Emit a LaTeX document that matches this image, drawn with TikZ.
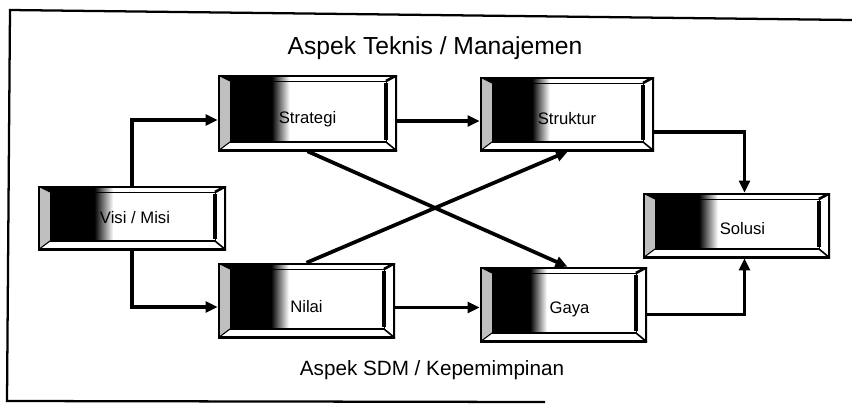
\documentclass[tikz,border=0pt]{standalone}
\usepackage{fontspec}
\setmainfont{Liberation Sans}
\usetikzlibrary{arrows.meta,calc}

\begin{document}
\begin{tikzpicture}[x=0.75pt,y=-0.75pt,
  frame/.style={line width=1.7pt},
  link/.style={line width=2.8pt,-{Triangle[length=9pt,width=8pt]}},
  captop/.style={font=\fontsize{18.5}{20}\selectfont},
  capbot/.style={font=\fontsize{15.5}{18}\selectfont},
  boxlabel/.style={inner sep=0pt,font=\fontsize{12.5}{14}\selectfont},
  boxsize/.style 2 args={minimum width=#1*0.75pt,minimum height=#2*0.75pt},
  bevelbox/.style={inner sep=0pt,fill=white,
    path picture={
      \coordinate (pA) at (path picture bounding box.north west);
      \coordinate (pB) at (path picture bounding box.south east);
      % dark face fading to white
      \fill[black] (pA) rectangle ($(pA |- pB)!0.30!(pB)$);
      \fill[left color=black,right color=white]
        ($(pA)!0.30!(pA -| pB)$) rectangle ($(pA |- pB)!0.40!(pB)$);
      % bevel strips
      \fill[gray!50] (pA) -- ($(pA)+(12,6)$) -- ($(pA |- pB)+(12,-9)$)
        -- (pA |- pB) -- cycle;
      \fill[white] (pA -| pB) -- ($(pA -| pB)+(-11,6)$) -- ($(pB)+(-11,-9)$)
        -- (pB) -- cycle;
      \fill[white] (pA |- pB) -- ($(pA |- pB)+(12,-9)$) -- ($(pB)+(-11,-9)$)
        -- (pB) -- cycle;
      % inner face outline and edges
      \draw[line width=0.6pt] ($(pA)+(12,6)$) rectangle ($(pB)+(-11,-9)$);
      \draw[line width=2.4pt] ($(pA -| pB)+(-11,8)$) -- ($(pB)+(-11,-11)$);
      \draw[line width=1.6pt] ($(pA |- pB)+(14,-9)$) -- ($(pB)+(-11,-9)$);
      \draw[line width=0.8pt] (pA) -- ($(pA)+(12,6)$);
      \draw[line width=2pt] (pA -| pB) -- ($(pA -| pB)+(-11,6)$);
      \draw[line width=0.8pt] (pA |- pB) -- ($(pA |- pB)+(12,-9)$);
      \draw[line width=1.2pt] (pB) -- ($(pB)+(-11,-9)$);
      % outer rim
      \draw[line width=3.6pt] (pA) rectangle (pB);
    }}]
\useasboundingbox (0,0) rectangle (852,404);

% outer frame
\draw[frame] (852,20) -- (10,10) -- (7,401) -- (545,402);

% captions
\node[captop] (teknis) at (435,48) {Aspek Teknis / Manajemen};
\node[capbot] (sdm) at (432,370) {Aspek SDM / Kepemimpinan};

% boxes
\node[bevelbox,boxsize={188}{64}] (visi)     at (132,218)   {};
\node[bevelbox,boxsize={179}{76}] (strategi) at (307.5,113) {};
\node[bevelbox,boxsize={174}{74}] (struktur) at (567,114)   {};
\node[bevelbox,boxsize={177}{75}] (nilai)    at (306.5,300.5) {};
\node[bevelbox,boxsize={167}{75}] (gaya)     at (563.5,304.5) {};
\node[bevelbox,boxsize={187}{65}] (solusi)   at (736.5,225.5) {};

% box labels, set a little below the middle of each face
\node[boxlabel] (visi-t)     at ($(visi)+(3,0)$)      {Visi / Misi};
\node[boxlabel] (strategi-t) at ($(strategi)+(0,6)$)  {Strategi};
\node[boxlabel] (struktur-t) at ($(struktur)+(0,5)$)  {Struktur};
\node[boxlabel] (nilai-t)    at ($(nilai)+(0,6)$)     {Nilai};
\node[boxlabel] (gaya-t)     at ($(gaya)+(6,5)$)      {Gaya};
\node[boxlabel] (solusi-t)   at ($(solusi)+(6,3)$)    {Solusi};

% connectors
\draw[link] (visi.north) |- ($(strategi.west)+(0,7)$);
\draw[link] (visi.south) |- ($(nilai.west)+(0,6.5)$);
\draw[link] ($(strategi.east)+(0,8)$) coordinate (ss) -- (ss -| struktur.west);
\draw[link] ($(nilai.east)+(0,7)$) coordinate (ng) -- (ng -| gaya.west);
\draw[link] ($(struktur.east)+(0,18)$) -| ($(solusi.north)+(8,0)$);
\draw[link] ($(gaya.east)+(0,10)$) -| ($(solusi.south)+(8,0)$);
\draw[link] (strategi.south) -- ($(gaya.north)+(4,0)$);
\draw[link] (nilai.north) -- ($(struktur.south)+(1,0)$);
\end{tikzpicture}
\end{document}
